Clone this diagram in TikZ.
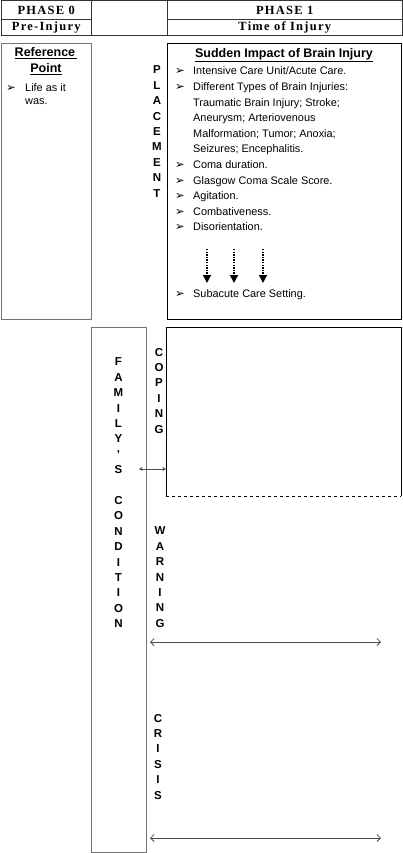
\documentclass[tikz,border=0pt]{standalone}
\usepackage{fontspec}
\setmainfont{Liberation Serif}
\setsansfont{Liberation Sans}
\newfontfamily\hdrfont[LetterSpace=10]{Liberation Serif}
\newfontfamily\dvfont{DejaVu Sans}
\usetikzlibrary{arrows.meta}
\newcommand{\bul}{{\dvfont\fontsize{11.5}{11.5}\selectfont ➢}}
\begin{document}
\begin{tikzpicture}[x=1pt,y=-1pt,
  hcell/.style={draw=black!80, line width=1pt, inner sep=0, anchor=north west,
    font=\hdrfont\bfseries\fontsize{12.5}{14}\selectfont},
  blackbox/.style={draw=black, line width=1pt, inner sep=0, anchor=north west},
  graybox/.style={draw=black!55, line width=1.3pt, inner sep=0, anchor=north west},
  ttl/.style={font=\sffamily\bfseries\fontsize{12.5}{15.6}\selectfont, inner sep=0},
  body/.style={font=\sffamily\fontsize{10.9}{15.6}\selectfont, inner sep=0, anchor=base west},
  bulnode/.style={inner sep=0, anchor=base},
  vlet/.style={font=\sffamily\bfseries\fontsize{11.5}{15.4}\selectfont, align=center, inner sep=0, anchor=north},
  dotarrow/.style={line width=1.4pt, dash pattern=on 1.3pt off 1.3pt, -{Triangle[width=8pt,length=8pt,sep=0pt]}},
  dblarrow/.style={draw=black!70, line width=0.8pt, {Straight Barb[length=3.5pt,width=7pt]}-{Straight Barb[length=3.5pt,width=7pt]}},
  smallarrow/.style={draw=black!70, line width=0.8pt, {Stealth[length=3.5pt,width=4pt]}-{Stealth[length=3.5pt,width=4pt]}}
]
\useasboundingbox (0,0) rectangle (402,853);

% header
\node[hcell, minimum width=90.5pt, minimum height=18.5pt] (h0a) at (0.5,0.5) {PHASE 0};
\node[hcell, minimum width=90.5pt, minimum height=16.5pt] (h0b) at (0.5,19) {Pre-Injury};
\node[hcell, minimum width=76pt, minimum height=35pt] (hmid) at (91,0.5) {};
\node[hcell, minimum width=234.5pt, minimum height=18.5pt] (h1a) at (167,0.5) {PHASE 1};
\node[hcell, minimum width=234.5pt, minimum height=16.5pt] (h1b) at (167,19) {Time of Injury};

% reference point box
\node[graybox, minimum width=90pt, minimum height=276pt] (refbox) at (1,43) {};
\node[ttl] (reft1) at (46,53) {\underline{Reference\,}};
\node[ttl] (reft2) at (46,69) {\underline{Point}};
\node[bulnode] (refb) at (11,92) {\bul};
\node[body] (refl1) at (25,92) {Life as it};
\node[body] (refl2) at (25,105) {was.};

% placement
\node[vlet] (place) at (157,65.8) {P\\L\\A\\C\\E\\M\\E\\N\\T};

% impact box
\node[blackbox, minimum width=234pt, minimum height=276pt] (impbox) at (167,43) {};
\node[ttl] (imptitle) at (284,55) {\underline{Sudden Impact of Brain Injury}};
\node[bulnode] (b1) at (180,74.9) {\bul};
\node[body] (l1) at (193,74.9) {Intensive Care Unit/Acute Care.};
\node[bulnode] (b2) at (180,90.5) {\bul};
\node[body] (l2) at (193,90.5) {Different Types of Brain Injuries:};
\node[body] (l3) at (193,106.1) {Traumatic Brain Injury; Stroke;};
\node[body] (l4) at (193,121.7) {Aneurysm; Arteriovenous};
\node[body] (l5) at (193,137.3) {Malformation; Tumor; Anoxia;};
\node[body] (l6) at (193,152.9) {Seizures; Encephalitis.};
\node[bulnode] (b7) at (180,168.5) {\bul};
\node[body] (l7) at (193,168.5) {Coma duration.};
\node[bulnode] (b8) at (180,184.1) {\bul};
\node[body] (l8) at (193,184.1) {Glasgow Coma Scale Score.};
\node[bulnode] (b9) at (180,199.7) {\bul};
\node[body] (l9) at (193,199.7) {Agitation.};
\node[bulnode] (b10) at (180,215.3) {\bul};
\node[body] (l10) at (193,215.3) {Combativeness.};
\node[bulnode] (b11) at (180,230.9) {\bul};
\node[body] (l11) at (193,230.9) {Disorientation.};
\coordinate (d1s) at (207,249); \coordinate (d1e) at (207,283);
\coordinate (d2s) at (234,249); \coordinate (d2e) at (234,283);
\coordinate (d3s) at (263,249); \coordinate (d3e) at (263,283);
\draw[dotarrow] (d1s) -- (d1e);
\draw[dotarrow] (d2s) -- (d2e);
\draw[dotarrow] (d3s) -- (d3e);
\node[bulnode] (b12) at (180,297) {\bul};
\node[body] (l12) at (193,297) {Subacute Care Setting.};

% family's condition box
\node[graybox, minimum width=55pt, minimum height=525pt] (fambox) at (91,327) {};
\node[vlet] (famtxt) at (118.5,357.8) {F\\A\\M\\I\\L\\Y\\'\\S\\[15.4pt]C\\O\\N\\D\\I\\T\\I\\O\\N};

% coping box
\node[inner sep=0, anchor=north west, minimum width=235pt, minimum height=169pt] (copbox) at (166,327) {};
\draw[black, line width=1pt] (copbox.south west) -- (copbox.north west) -- (copbox.north east) -- (copbox.south east);
\draw[black, line width=0.8pt, dashed] (copbox.south west) -- (copbox.south east);
\node[vlet] (coping) at (159,347.8) {C\\O\\P\\I\\N\\G};
\node[vlet] (warning) at (160,526.8) {W\\A\\R\\N\\I\\N\\G};
\node[vlet] (crisis) at (158,713.8) {C\\R\\I\\S\\I\\S};

% arrows
\coordinate (ca) at (139,469);
\draw[smallarrow] (ca) -- (ca -| copbox.west);
\coordinate (wa1) at (150,642); \coordinate (wa2) at (381,642);
\draw[dblarrow] (wa1) -- (wa2);
\coordinate (cr1) at (150,838); \coordinate (cr2) at (381,838);
\draw[dblarrow] (cr1) -- (cr2);
\end{tikzpicture}
\end{document}
